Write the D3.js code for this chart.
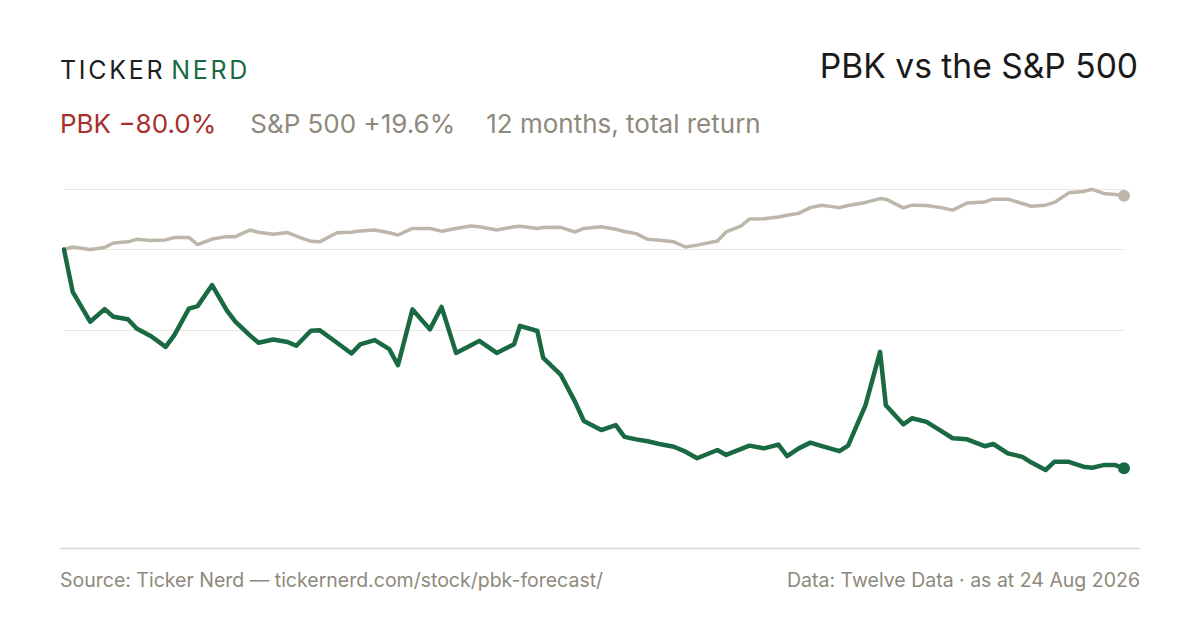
<!DOCTYPE html>
<html>
<head>
<meta charset="utf-8">
<script src="https://cdn.jsdelivr.net/npm/d3@7"></script>
<style>
  html, body { margin: 0; padding: 0; background: #fff; }
  svg { display: block; font-family: Inter, "Noto Sans", sans-serif; }
</style>
</head>
<body>
<svg id="chart" width="1200" height="630"></svg>
<script>
// days since 24 Aug 2025 for each sample
var dayOffsets = [0, 3, 9, 14, 17, 22, 25, 30, 35, 38, 43, 46, 51, 56, 59, 64, 67, 72, 77, 80,
    85, 88, 94, 99, 102, 107, 112, 115, 120, 126, 130, 135, 140, 143, 149, 155, 157, 163, 165, 171,
    176, 179, 185, 190, 193, 197, 201, 205, 210, 214, 218, 225, 228, 233, 236, 241, 246, 249, 253, 257,
    261, 267, 270, 276, 281, 283, 289, 292, 297, 302, 306, 311, 317, 320, 325, 330, 333, 338, 341, 346,
    351, 354, 358, 362, 365];

// total return in %, PBK
var pbkReturn = [0, -15.5, -26.4, -21.8, -24.6, -25.5, -28.9, -31.7, -35.6, -31.3, -21.6, -20.7, -13.0, -22.2, -26.4, -31.4, -34.1, -32.9, -33.8, -35.2,
    -29.7, -29.5, -34.1, -38.0, -34.7, -33.1, -36.4, -42.3, -21.9, -29.2, -21.0, -37.8, -35.1, -33.4, -37.8, -34.6, -27.9, -29.8, -39.6, -45.7,
    -55.7, -62.7, -66.0, -64.2, -68.5, -69.4, -70.1, -71.1, -72.1, -73.9, -76.3, -73.3, -75.1, -73.0, -71.7, -72.7, -71.3, -75.5, -72.7, -70.6,
    -71.9, -73.7, -71.7, -56.9, -37.4, -56.9, -63.9, -61.7, -63.0, -66.3, -69.0, -69.4, -71.9, -71.1, -74.5, -75.8, -77.8, -80.6, -77.6, -77.6,
    -79.4, -79.8, -78.8, -78.8, -80.0];

// total return in %, S&P 500
var spxReturn = [0, 0.9, 0.0, 0.7, 2.4, 2.8, 3.7, 3.3, 3.5, 4.4, 4.4, 1.8, 3.8, 4.7, 4.7, 7.1, 6.3, 5.6, 6.2, 4.9,
    3.0, 2.8, 6.1, 6.3, 6.8, 7.1, 6.1, 5.3, 7.7, 7.7, 6.7, 7.7, 8.6, 8.3, 7.1, 8.3, 8.5, 7.7, 8.0, 8.1,
    6.4, 7.7, 8.3, 7.4, 6.6, 5.8, 3.7, 3.4, 2.8, 0.9, 1.6, 3.1, 6.4, 8.5, 11.1, 11.2, 11.9, 12.5, 13.2, 15.3,
    16.2, 15.3, 16.1, 17.2, 18.6, 18.4, 15.2, 16.2, 16.1, 15.3, 14.4, 17.0, 17.4, 18.4, 18.4, 16.8, 15.8, 16.2, 17.2, 20.7,
    21.2, 22.0, 20.5, 20.1, 19.6];

var startDate = new Date(2025, 7, 24);
var endDate = new Date(2026, 7, 24);

var plotLeft = 64,
    plotRight = 1124,
    plotTop = 189.3,
    plotBottom = 470;

var svg = d3.select('#chart');

var dates = dayOffsets.map(function (d) { return d3.timeDay.offset(startDate, d); });
var pbk = dates.map(function (d, i) { return { date: d, value: pbkReturn[i] }; });
var spx = dates.map(function (d, i) { return { date: d, value: spxReturn[i] }; });

var allValues = pbkReturn.concat(spxReturn),
    lo = d3.min(allValues),
    hi = d3.max(allValues);

var x = d3.scaleTime().domain([startDate, endDate]).range([plotLeft, plotRight]);
var y = d3.scaleLinear().domain([lo, hi]).range([plotBottom, plotTop]);

// gridlines: top of range, start level, middle of range
var gridValues = [hi, 0, (hi + lo) / 2];
svg.append('g')
    .selectAll('line')
    .data(gridValues)
    .join('line')
    .attr('x1', plotLeft)
    .attr('x2', plotRight)
    .attr('y1', function (d) { return Math.round(y(d)) + 0.5; })
    .attr('y2', function (d) { return Math.round(y(d)) + 0.5; })
    .attr('stroke', '#ebe8e2')
    .attr('stroke-width', 1.2);

// baseline under the plot
svg.append('line')
    .attr('x1', 60).attr('x2', 1140)
    .attr('y1', 548.5).attr('y2', 548.5)
    .attr('stroke', '#dcd8ce')
    .attr('stroke-width', 1.5);

var line = d3.line()
    .x(function (d) { return x(d.date); })
    .y(function (d) { return y(d.value); });

svg.append('path')
    .datum(spx)
    .attr('d', line)
    .attr('fill', 'none')
    .attr('stroke', '#bdb6aa')
    .attr('stroke-width', 3.5)
    .attr('stroke-linejoin', 'round')
    .attr('stroke-linecap', 'round');

svg.append('path')
    .datum(pbk)
    .attr('d', line)
    .attr('fill', 'none')
    .attr('stroke', '#196a42')
    .attr('stroke-width', 4.5)
    .attr('stroke-linejoin', 'round')
    .attr('stroke-linecap', 'round');

// end dots
svg.append('circle')
    .attr('cx', x(spx[spx.length - 1].date))
    .attr('cy', y(spx[spx.length - 1].value))
    .attr('r', 6)
    .attr('fill', '#bdb6aa');
svg.append('circle')
    .attr('cx', x(pbk[pbk.length - 1].date))
    .attr('cy', y(pbk[pbk.length - 1].value))
    .attr('r', 6)
    .attr('fill', '#196a42');

// header
var brand = svg.append('text')
    .attr('x', 60).attr('y', 79)
    .attr('font-size', 25)
    .attr('letter-spacing', 2.7);
brand.append('tspan').attr('fill', '#1f1f1f').text('TICKER');
brand.append('tspan').attr('fill', '#196a42').attr('dx', 6).text('NERD');

svg.append('text')
    .attr('x', 1138).attr('y', 78)
    .attr('text-anchor', 'end')
    .attr('font-size', 33.6)
    .attr('fill', '#1a1a1a')
    .text('PBK vs the S&P 500');

var sub = svg.append('text')
    .attr('x', 60).attr('y', 133)
    .attr('font-size', 26);
sub.append('tspan').attr('fill', '#a6302b').text('PBK \u221280.0%');
sub.append('tspan').attr('fill', '#8e897c').attr('dx', 34).text('S&P 500 +19.6%');
sub.append('tspan').attr('fill', '#8e897c').attr('dx', 31).text('12 months, total return');

// footer
svg.append('text')
    .attr('x', 60).attr('y', 587)
    .attr('font-size', 19.5)
    .attr('fill', '#8e897c')
    .text('Source: Ticker Nerd \u2014 tickernerd.com/stock/pbk-forecast/');

svg.append('text')
    .attr('x', 1140).attr('y', 587)
    .attr('text-anchor', 'end')
    .attr('font-size', 19.5)
    .attr('fill', '#8e897c')
    .text('Data: Twelve Data \u00b7 as at 24 Aug 2026');
</script>
</body>
</html>
